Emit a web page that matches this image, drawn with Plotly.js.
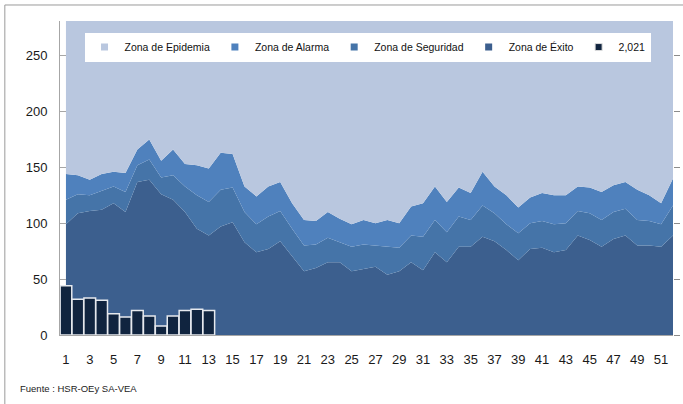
<!DOCTYPE html>
<html>
<head>
<meta charset="utf-8">
<script src="https://cdn.plot.ly/plotly-3.0.1.min.js"></script>
<style>
  html, body { margin: 0; padding: 0; background: #ffffff; }
  #chart { width: 683px; height: 404px; }
</style>
</head>
<body>
<div id="chart"></div>
<script>
// Semanas epidemiológicas
var weeks = [1,2,3,4,5,6,7,8,9,10,11,12,13,14,15,16,17,18,19,20,21,22,23,24,25,26,
             27,28,29,30,31,32,33,34,35,36,37,38,39,40,41,42,43,44,45,46,47,48,49,50,51,52];

// Límite superior de cada zona (canal endémico)
var exitoTop = [99,109,111,112,118,110,137,139,126,121,110,95,89,97,101,83,74,77,84,71,57,60,65,65,57,59,
                61,54,57,65,58,74,65,79,79,88,84,76,67,77,78,74,76,89,85,79,86,89,80,80,79,89];
var seguridadTop = [121,126,125,129,133,128,152,157,141,143,133,125,119,130,132,110,99,106,111,95,80,81,87,83,79,81,
                    80,79,78,89,88,103,92,106,103,116,109,99,91,100,102,99,100,111,109,103,110,113,103,102,99,116];
var alarmaTop = [144,143,139,144,146,145,166,175,156,166,153,152,149,163,162,133,124,133,137,118,103,102,110,104,99,103,
                 100,103,100,115,118,133,119,132,127,146,133,125,114,123,127,125,125,133,132,128,134,137,130,125,118,140];
var epidemiaTop = [300,300,300,300,300,300,300,300,300,300,300,300,300,300,300,300,300,300,300,300,300,300,300,300,300,300,
                   300,300,300,300,300,300,300,300,300,300,300,300,300,300,300,300,300,300,300,300,300,300,300,300,300,300];

// Casos 2021
var weeks2021 = [1,2,3,4,5,6,7,8,9,10,11,12,13];
var cases2021 = [44,32,33,31,19,16,22,17,8,17,22,23,22];

var names = ["Zona de Epidemia","Zona de Alarma","Zona de Seguridad","Zona de Éxito","2,021"];
var colors = {
  epidemia: "#B9C7DF",
  alarma: "#4F81BD",
  seguridad: "#4574A8",
  exito: "#3C5F8E",
  bar: "#10243F"
};

function area(y, fill, color) {
  return {
    type: "scatter", mode: "lines", x: weeks, y: y,
    fill: fill, fillcolor: color, line: {width: 0, color: color},
    showlegend: false, hoverinfo: "skip", xaxis: "x", yaxis: "y"
  };
}

var data = [
  area(exitoTop, "tozeroy", colors.exito),
  area(seguridadTop, "tonexty", colors.seguridad),
  area(alarmaTop, "tonexty", colors.alarma),
  area(epidemiaTop, "tonexty", colors.epidemia),
  {
    type: "bar", x: weeks2021, y: cases2021, xaxis: "x2", yaxis: "y2",
    marker: {color: colors.bar, line: {color: "#E6E9EE", width: 1.5}},
    showlegend: false, hoverinfo: "skip"
  }
];

// Legend entries (small square swatches like the original)
var legendColors = [colors.epidemia, colors.alarma, colors.seguridad, colors.exito, colors.bar];
for (var i = 0; i < names.length; i++) {
  data.push({
    type: "scatter", mode: "markers", x: [null], y: [null], name: names[i],
    xaxis: "x", yaxis: "y",
    marker: {symbol: "square", size: 7, color: legendColors[i],
             line: {width: i === 4 ? 1 : 0, color: "#dddddd"}},
    showlegend: true, hoverinfo: "skip"
  });
}

var fontFam = "'Liberation Sans', Arial, sans-serif";
var yr = [0, 281];
var xr = [0.5, 52];

var layout = {
  width: 683, height: 404,
  margin: {l: 60, r: 10, t: 21, b: 69},
  paper_bgcolor: "#ffffff", plot_bgcolor: "#ffffff",
  font: {family: fontFam, size: 13, color: "#1a1a1a"},
  showlegend: true,
  bargap: 0.02,
  xaxis: {
    range: xr, tick0: 1, dtick: 2, showgrid: false, zeroline: false,
    showline: true, linecolor: "#a6a6a6", linewidth: 1,
    ticks: "", ticklabelstandoff: 12,
    tickfont: {family: fontFam, size: 13, color: "#1a1a1a"}
  },
  yaxis: {
    range: yr, dtick: 50, showgrid: false, zeroline: false,
    showline: true, linecolor: "#a6a6a6", linewidth: 1,
    ticks: "inside", ticklen: 6, tickcolor: "#a6a6a6",
    ticklabelstandoff: 9,
    tickfont: {family: fontFam, size: 13, color: "#1a1a1a"}
  },
  xaxis2: {range: xr, overlaying: "x", visible: false},
  yaxis2: {
    range: yr, dtick: 50, overlaying: "y", side: "right",
    showgrid: false, zeroline: false, showline: false,
    ticks: "outside", ticklen: 6, tickcolor: "#8c8c8c", showticklabels: false
  },
  legend: {
    orientation: "h", x: 0.04, xanchor: "left", y: 0.917, yanchor: "middle",
    bgcolor: "#ffffff", borderwidth: 0,
    font: {family: fontFam, size: 10.5, color: "#111111"},
    traceorder: "normal"
  },
  annotations: [{
    text: "Fuente : HSR-OEy SA-VEA", xref: "paper", yref: "paper",
    x: -0.068, y: -0.17, xanchor: "left", yanchor: "middle", showarrow: false,
    font: {family: fontFam, size: 9.5, color: "#222222"}
  }],
  shapes: [{
    type: "rect", xref: "paper", yref: "paper", layer: "below",
    x0: -0.09, x1: 1.05, y0: -0.3, y1: 1.051,
    line: {color: "#9a9a9a", width: 1}, fillcolor: "rgba(0,0,0,0)"
  }]
};

Plotly.newPlot("chart", data, layout, {staticPlot: true, displayModeBar: false});
</script>
</body>
</html>
